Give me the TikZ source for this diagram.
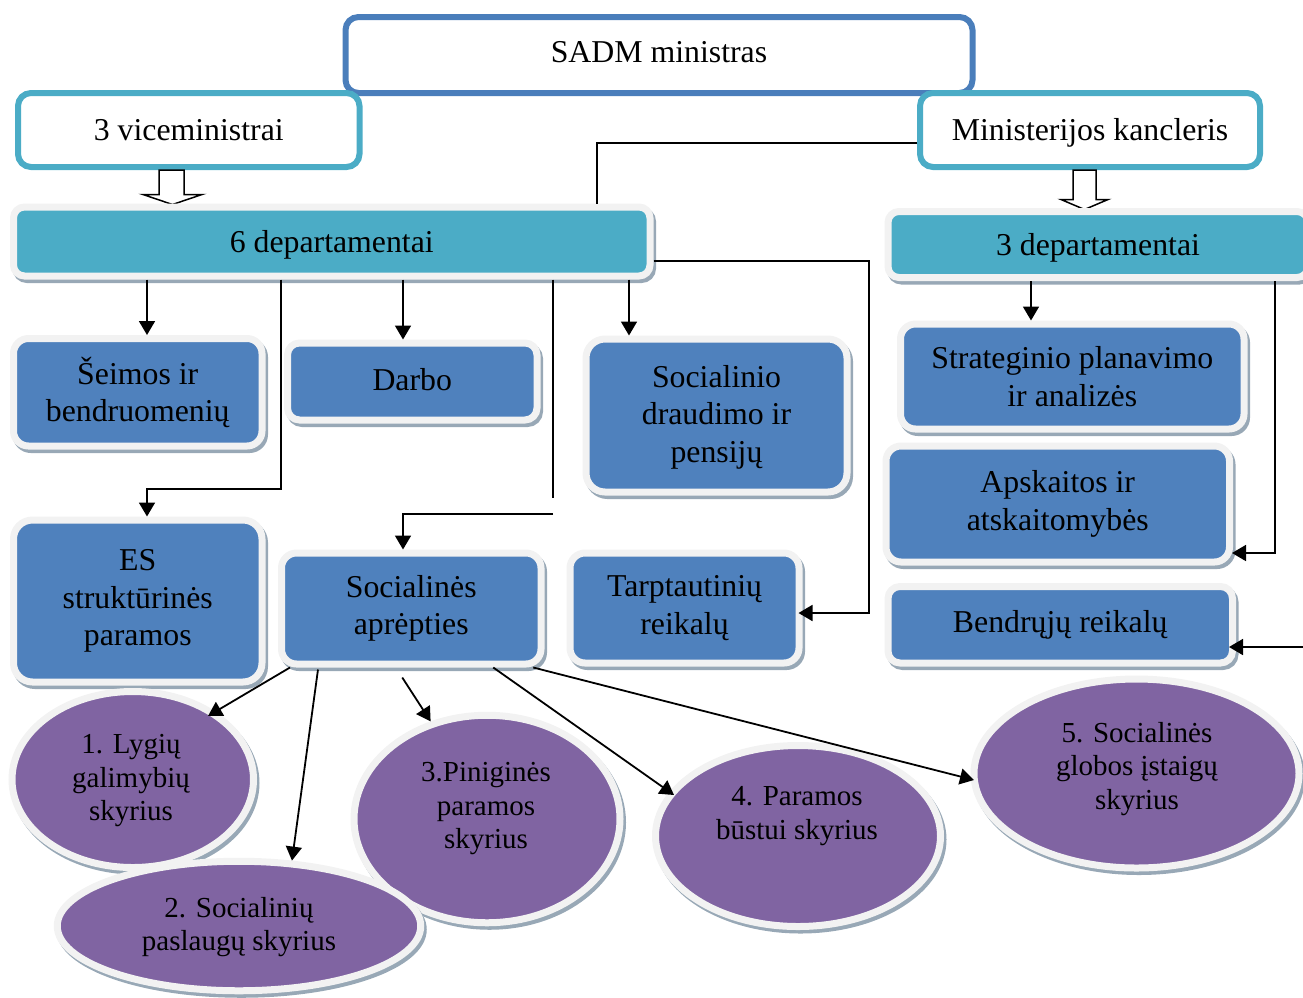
\documentclass[tikz,border=0pt]{standalone}
\usepackage{fontspec}
\setmainfont{Liberation Serif}
\usetikzlibrary{shapes.geometric,shadows,arrows.meta,calc}
\definecolor{tealF}{HTML}{4BACC6}
\definecolor{blueF}{HTML}{4F81BD}
\definecolor{purpF}{HTML}{8064A2}
\definecolor{rimC}{HTML}{F2F2F2}
\definecolor{shadC}{HTML}{98A8B6}
\definecolor{sadmC}{HTML}{4A7EBB}
\tikzset{
 btxt/.style={font=\fontsize{31.8}{37.5}\selectfont, align=center},
 etxt/.style={font=\fontsize{29}{33.5}\selectfont, align=center, inner sep=0pt},
 rimshadow/.style={drop shadow={shadow xshift=2.5pt, shadow yshift=-3.5pt, fill=shadC, draw=shadC, line width=7pt, opacity=1}},
 rimbox/.style={draw=rimC, line width=7pt, inner sep=0pt, btxt, rimshadow},
 bluebox/.style={rimbox, fill=blueF, rounded corners=#1},
 tealbox/.style={rimbox, fill=tealF, rounded corners=#1},
 topbox/.style={draw=#1, line width=6pt, fill=white, rounded corners=13pt, inner sep=0pt, btxt},
 oval/.style={ellipse, draw=rimC, line width=7pt, fill=purpF, inner sep=0pt, rimshadow},
 conn/.style={line width=1.8pt, draw=black},
 arr/.style={conn, -{Triangle[length=14pt,width=16pt]}},
 hollow/.style={draw=black, line width=1.5pt, fill=white, line join=miter},
}
\begin{document}
\begin{tikzpicture}[x=1pt,y=-1pt]
\clip (0,0) rectangle (1303,997);
% top boxes
\node[topbox=sadmC, minimum width=627pt, minimum height=76pt, text depth=6pt] (sadm) at (659,55) {SADM ministras};
\node[topbox=tealF, minimum width=341.5pt, minimum height=74pt] (vice) at (188.75,130) {3 viceministrai};
\node[topbox=tealF, minimum width=340pt, minimum height=74pt, text depth=1pt] (kanc) at (1090,130) {Ministerijos kancleris};
% hollow arrows
\draw[hollow] ($(vice.south)+(-29.75,0)$) -- ++(25,0) -- ++(0,24.5) -- ++(18,0) -- ($(vice.south)+(-16.25,34.5)$) -- ($(vice.south)+(-45.75,24.5)$) -- ($(vice.south)+(-29.75,24.5)$) -- cycle;
\draw[hollow] ($(kanc.south)+(-17,0)$) -- ++(23,0) -- ++(0,29.5) -- ++(12,0) -- ($(kanc.south)+(-5.5,39.5)$) -- ($(kanc.south)+(-29,29.5)$) -- ($(kanc.south)+(-17,29.5)$) -- cycle;
% department boxes
\node[tealbox=11pt, minimum width=636.5pt, minimum height=69pt, text depth=0pt] (dep6) at (331.75,241.5) {6 departamentai};
\node[tealbox=11pt, minimum width=420pt, minimum height=66pt, text depth=0pt] (dep3) at (1098,244.5) {3 departamentai};
\node[bluebox=15pt, minimum width=248.5pt, minimum height=107.5pt] (seim) at (137.75,392.25) {Šeimos ir\\bendruomenių};
\node[bluebox=12pt, minimum width=249.5pt, minimum height=77pt, text depth=5pt] (darbo) at (412.25,381.5) {Darbo};
\node[bluebox=19pt, minimum width=261pt, minimum height=153pt] (sdr) at (716.5,415.5) {\rule{0pt}{25pt}Socialinio\\draudimo ir\\pensijų};
\node[bluebox=19pt, minimum width=248.5pt, minimum height=162pt] (es) at (137.75,601) {ES\\struktūrinės\\paramos};
\node[bluebox=15pt, minimum width=259.5pt, minimum height=111pt] (aprep) at (411.25,608.5) {Socialinės\\aprėpties};
\node[bluebox=15pt, minimum width=229pt, minimum height=110pt] (tarp) at (684.5,608) {Tarptautinių\\reikalų};
\node[bluebox=15pt, minimum width=343.5pt, minimum height=105pt] (strat) at (1072.25,376.5) {Strateginio planavimo\\ir analizės};
\node[bluebox=15pt, minimum width=343.5pt, minimum height=116pt] (apsk) at (1057.75,504) {Apskaitos ir\\atskaitomybės};
\node[bluebox=12pt, minimum width=344.5pt, minimum height=76.5pt] (bendr) at (1060.25,624.75) {Bendrųjų reikalų};
% ellipses
\node[oval, minimum width=266pt, minimum height=207.5pt] (e3) at (487,819) {};
\node[oval, minimum width=241.5pt, minimum height=176pt] (e1) at (132.75,779.5) {};
\node[oval, minimum width=363.5pt, minimum height=129.5pt] (e2) at (239,926) {};
\node[oval, minimum width=285pt, minimum height=181pt] (e4) at (798,836) {};
\node[oval, minimum width=325pt, minimum height=189pt] (e5) at (1136.5,773.5) {};
\node[etxt] (e1t) at (131,781) {1. Lygių\\galimybių\\skyrius};
\node[etxt] (e2t) at (239,927) {2. Socialinių\\paslaugų skyrius};
\node[etxt] (e3t) at (486,809) {3.Piniginės\\paramos\\skyrius};
\node[etxt] (e4t) at (797,816) {4. Paramos\\būstui skyrius};
\node[etxt] (e5t) at (1137,769) {5. Socialinės\\globos įstaigų\\skyrius};
% connectors
\draw[arr] ($(dep6.south)+(-184.75,0)$) -- ($(seim.north)+(9.25,0)$);
\draw[arr] ($(dep6.south)+(-50.75,0)$) |- ($(es.north)+(9.25,-27.5)$) -- ($(es.north)+(9.25,0)$);
\draw[arr] ($(dep6.south)+(71.25,0)$) -- ($(darbo.north)+(-9.25,0)$);
\draw[arr] ($(dep6.south)+(221.25,0)$) -- ++(0,218.5) ++(0,16) -| ($(aprep.north)+(-8.25,0)$);
\draw[arr] ($(dep6.south)+(297.25,0)$) -- ($(sdr.north)+(-87.5,0)$);
\draw[arr] ($(dep6.east)+(0,19.5)$) -| ($(tarp.east)+(66.5,5)$) -- ($(tarp.east)+(-4,5)$);
\draw[conn] ($(kanc.west)+(0,13)$) -| ($(dep6.north)+(265.25,0)$);
\draw[arr] ($(dep3.south)+(-67,0)$) -- ($(strat.north)+(-41.25,0)$);
\draw[arr] ($(dep3.south)+(177,0)$) |- ($(apsk.east)+(-1,49)$);
\coordinate (rb) at (1310,647);
\draw[arr] (rb) -- ($(bendr.east)+(-7,22.25)$);
\draw[arr] ($(aprep.south west)+(12,0)$) -- ($(e1.center)+(75.25,-63.5)$);
\draw[arr] ($(aprep.south west)+(40,2)$) -- (e2.51);
\draw[arr] ($(aprep.south)+(-9,10)$) -- (e3.120);
\draw[arr] ($(aprep.south)+(82,0)$) -- ($(e4.center)+(-124,-41)$);
\draw[arr] ($(aprep.south)+(122,0)$) -- ($(e5.center)+(-162.5,6.5)$);
\end{tikzpicture}
\end{document}
